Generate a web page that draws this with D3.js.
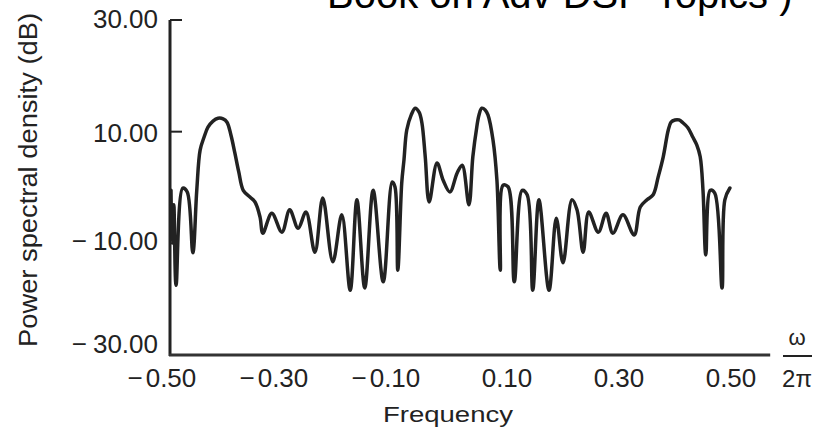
<!DOCTYPE html>
<html>
<head>
<meta charset="utf-8">
<script src="https://cdn.jsdelivr.net/npm/d3@7"></script>
<style>
  html, body { margin: 0; padding: 0; background: #fff; }
  svg { display: block; }
  text { font-family: "Liberation Sans", Arial, sans-serif; fill: #222; }
</style>
</head>
<body>
<svg id="chart" width="819" height="431"></svg>
<script>
// ---- data ----
const titleText = "Book on Adv DSP  Topics )";
const yLabel = "Power spectral density (dB)";
const xLabel = "Frequency";
const xTicks = [-0.5, -0.3, -0.1, 0.1, 0.3, 0.5];
const yTicks = [30, 10, -10, -30];

const freq = [
  -0.500, -0.498, -0.495, -0.491, -0.479, -0.471, -0.461, -0.454, -0.448, -0.441,
  -0.434, -0.425, -0.416, -0.407, -0.400, -0.393, -0.386, -0.379, -0.371, -0.359,
  -0.350, -0.341, -0.336, -0.320, -0.302, -0.288, -0.273, -0.259, -0.243, -0.229,
  -0.211, -0.195, -0.180, -0.168, -0.154, -0.139, -0.121, -0.105, -0.100, -0.095,
  -0.088, -0.084, -0.079, -0.071, -0.064, -0.057, -0.052, -0.046, -0.039, -0.025,
  -0.014, -0.002, 0.011, 0.020, 0.032, 0.039, 0.046, 0.050, 0.055, 0.061,
  0.066, 0.075, 0.082, 0.088, 0.093, 0.102, 0.113, 0.127, 0.136, 0.146,
  0.157, 0.175, 0.188, 0.200, 0.216, 0.225, 0.236, 0.246, 0.263, 0.277,
  0.289, 0.307, 0.327, 0.338, 0.350, 0.361, 0.370, 0.379, 0.388, 0.393,
  0.400, 0.407, 0.414, 0.423, 0.432, 0.439, 0.445, 0.450, 0.455, 0.463,
  0.471, 0.484, 0.489, 0.498
];
const psd = [
  -0.5, -9.9, -3.1, -17.5, -0.1, -0.8, -11.7, -0.5, 6.7, 9.0,
  10.8, 11.9, 12.4, 12.3, 11.7, 9.4, 6.2, 2.8, -0.5, -1.7,
  -2.6, -5.3, -8.2, -4.6, -8.0, -4.0, -7.3, -4.4, -11.6, -1.9,
  -13.3, -4.9, -18.4, -2.2, -18.0, -0.5, -16.9, 1.0, 0.1, -14.8,
  0.8, 4.9, 10.3, 13.0, 14.2, 13.5, 11.6, 5.5, -2.6, 4.4,
  1.3, -0.8, 2.6, 4.0, -3.1, 5.5, 10.8, 13.0, 14.2, 13.9,
  13.0, 8.5, 1.3, -14.8, 0.4, 0.1, -16.9, -0.5, -1.3, -18.4,
  -2.2, -18.4, -5.5, -13.5, -2.2, -4.0, -11.6, -4.4, -8.0, -4.6,
  -8.2, -4.9, -8.5, -3.5, -2.2, -1.3, 1.9, 5.5, 10.3, 11.7,
  12.1, 12.1, 11.6, 10.7, 9.0, 7.6, 5.5, -0.5, -12.1, -0.5,
  -1.0, -18.0, -2.2, -0.1
];

// ---- drawing ----
const svg = d3.select("#chart");
const x = d3.scaleLinear().domain([-0.5, 0.5]).range([171, 731]);
const y = d3.scaleLinear().domain([-30, 30]).range([355, 20]);
const ink = "#222";

// title (partially cut off at top, as in the reference)
svg.append("text")
  .attr("x", 327).attr("y", 8)
  .style("font-size", "40px")
  .style("fill", "#000")
  .text(titleText);

// axes lines
const x0 = x.range()[0] - 1;
svg.append("line")
  .attr("x1", x0).attr("x2", x0)
  .attr("y1", y(30)).attr("y2", y(-30) + 1)
  .attr("stroke", ink).attr("stroke-width", 3);
svg.append("line")
  .attr("x1", x0 - 1).attr("x2", x(0.57))
  .attr("y1", y(-30)).attr("y2", y(-30))
  .attr("stroke", "#333").attr("stroke-width", 3);

// y ticks (inward)
svg.selectAll(".ytick").data(yTicks.filter(v => v > -30)).enter()
  .append("line")
  .attr("x1", x0).attr("x2", d => x0 + (d === -10 ? 7 : 12))
  .attr("y1", d => y(d)).attr("y2", d => y(d))
  .attr("stroke", ink).attr("stroke-width", 2);

// y tick labels (minus sign set apart)
const yShift = {"30": 8, "10": 10, "-10": 7, "-30": -2};
yTicks.forEach(v => {
  const t = svg.append("text")
    .attr("x", 158).attr("y", y(v) + yShift[String(v)])
    .attr("text-anchor", "end")
    .style("font-size", "26px")
    .text(d3.format(".2f")(Math.abs(v)));
  if (v < 0) {
    const w = t.node().getComputedTextLength();
    svg.append("text")
      .attr("x", 158 - w - 6).attr("y", y(v) + yShift[String(v)])
      .attr("text-anchor", "end")
      .style("font-size", "26px")
      .text("\u2212");
  }
});

// x tick labels
xTicks.forEach(v => {
  const t = svg.append("text")
    .attr("x", x(v)).attr("y", 387)
    .attr("text-anchor", "middle")
    .style("font-size", "26px")
    .text(d3.format(".2f")(Math.abs(v)));
  if (v < 0) {
    const w = t.node().getComputedTextLength();
    svg.append("text")
      .attr("x", x(v) - w / 2 - 3).attr("y", 387)
      .attr("text-anchor", "end")
      .style("font-size", "26px")
      .text("\u2212");
  }
});

// omega / 2pi unit
svg.append("text")
  .attr("x", 797).attr("y", 345)
  .attr("text-anchor", "middle")
  .style("font-size", "22px")
  .text("\u03c9");
svg.append("line")
  .attr("x1", 783).attr("x2", 812)
  .attr("y1", 356).attr("y2", 356)
  .attr("stroke", ink).attr("stroke-width", 2);
svg.append("text")
  .attr("x", 797).attr("y", 387)
  .attr("text-anchor", "middle")
  .style("font-size", "24px")
  .text("2\u03c0");

// axis titles
svg.append("text")
  .attr("transform", "translate(37,180) rotate(-90)")
  .attr("text-anchor", "middle")
  .attr("textLength", 334)
  .attr("lengthAdjust", "spacingAndGlyphs")
  .style("font-size", "25px")
  .text(yLabel);
svg.append("text")
  .attr("x", 448).attr("y", 422)
  .attr("text-anchor", "middle")
  .attr("textLength", 130)
  .attr("lengthAdjust", "spacingAndGlyphs")
  .style("font-size", "22px")
  .text(xLabel);

// PSD curve
const pts = freq.map((f, i) => [f, psd[i]]);
const line = d3.line().x(d => x(d[0])).y(d => y(d[1])).curve(d3.curveCatmullRom.alpha(0.5));
svg.append("path")
  .datum(pts)
  .attr("d", line)
  .attr("fill", "none")
  .attr("stroke", ink)
  .attr("stroke-width", 3.5)
  .attr("stroke-linejoin", "round")
  .attr("stroke-linecap", "round");
</script>
</body>
</html>
